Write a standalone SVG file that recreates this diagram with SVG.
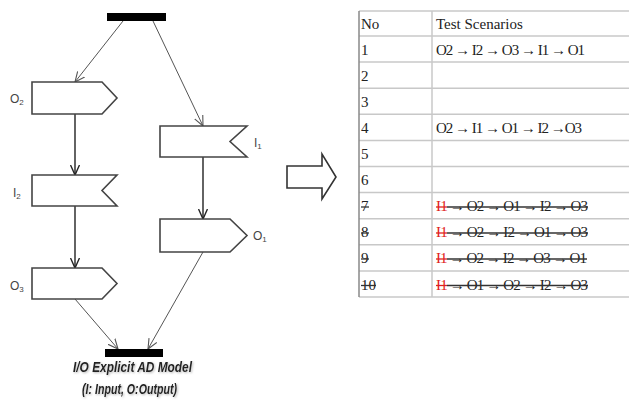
<svg xmlns="http://www.w3.org/2000/svg" width="629" height="407" viewBox="0 0 629 407">
<style>
.shape{fill:#fff;stroke:#444;stroke-width:1.6}
.bar{fill:#000}
.lbl{font-family:"Liberation Sans",Arial,sans-serif;font-size:12px;fill:#444}
.sub{font-size:8px}
.conn{fill:none;stroke:#222;stroke-width:1.4}
.diag{fill:none;stroke:#555;stroke-width:1}
.cap{font-family:"Liberation Sans",Arial,sans-serif;font-size:15px;font-weight:bold;font-style:italic;fill:#222}
.grid{stroke:#c8c8c8;stroke-width:1.5}
.lborder{stroke:#888;stroke-width:1.5}
.tt{font-family:"Liberation Serif","Times New Roman",serif;font-size:15px;fill:#222}
.red{fill:#e02020}
.strike{stroke:#333;stroke-width:1.3}
.rstrike{stroke:#e02020;stroke-width:1.3}
</style>
<defs>
<marker id="ah" viewBox="0 0 10 10" refX="10" refY="5" markerWidth="10" markerHeight="10" markerUnits="userSpaceOnUse" orient="auto">
<path d="M0,0.5 L10,5 L0,9.5" fill="none" stroke="#222" stroke-width="1.4"/>
</marker>
<marker id="ahd" viewBox="0 0 10 10" refX="10" refY="5" markerWidth="10" markerHeight="10" markerUnits="userSpaceOnUse" orient="auto">
<path d="M0,0.5 L10,5 L0,9.5" fill="none" stroke="#555" stroke-width="1.1"/>
</marker>
<filter id="sh" x="-10%" y="-30%" width="120%" height="160%">
<feDropShadow dx="1" dy="1" stdDeviation="1" flood-color="#888" flood-opacity="0.6"/>
</filter>
</defs>
<rect width="629" height="407" fill="#fff"/>

<g id="connectors">
<line class="diag" x1="123" y1="21" x2="75" y2="82" marker-end="url(#ahd)"/>
<line class="diag" x1="153" y1="21" x2="203" y2="126" marker-end="url(#ahd)"/>
<line class="conn" x1="75" y1="114" x2="75" y2="175" marker-end="url(#ah)"/>
<line class="conn" x1="75" y1="206" x2="75" y2="268" marker-end="url(#ah)"/>
<line class="conn" x1="203" y1="157" x2="203" y2="219" marker-end="url(#ah)"/>
<line class="diag" x1="75" y1="299" x2="118" y2="349" marker-end="url(#ahd)"/>
<line class="diag" x1="203" y1="252" x2="148" y2="349" marker-end="url(#ahd)"/>
</g>

<g id="fork">
<rect class="bar" x="107" y="13" width="59" height="8"/>
</g>
<g id="join">
<rect class="bar" x="105" y="349" width="58" height="8"/>
</g>

<g id="O2">
<polygon class="shape" points="32,82 102,82 117,98 102,114 32,114"/>
<text class="lbl" x="10" y="103">O<tspan class="sub" dy="2">2</tspan></text>
</g>
<g id="I2">
<polygon class="shape" points="32,175 117,175 102,190.5 117,206 32,206"/>
<text class="lbl" x="13" y="197">I<tspan class="sub" dy="2">2</tspan></text>
</g>
<g id="O3">
<polygon class="shape" points="32,268 102,268 117,283.5 102,299 32,299"/>
<text class="lbl" x="10" y="290">O<tspan class="sub" dy="2">3</tspan></text>
</g>
<g id="I1">
<polygon class="shape" points="160,126 247,126 230,141.5 247,157 160,157"/>
<text class="lbl" x="254" y="147">I<tspan class="sub" dy="2">1</tspan></text>
</g>
<g id="O1">
<polygon class="shape" points="160,219 230,219 247,235.5 230,252 160,252"/>
<text class="lbl" x="253" y="240">O<tspan class="sub" dy="2">1</tspan></text>
</g>

<g id="caption" filter="url(#sh)">
<text class="cap" x="73" y="372" textLength="119" lengthAdjust="spacingAndGlyphs">I/O Explicit AD Model</text>
<text class="cap" x="82" y="394" textLength="95" lengthAdjust="spacingAndGlyphs">(I: Input, O:Output)</text>
</g>

<g id="big-arrow">
<polygon points="287,166 322,166 322,154 336,177 322,199 322,188 287,188" fill="#fff" stroke="#333" stroke-width="1.6" stroke-linejoin="miter"/>
</g>

<g id="table">
<line class="grid" x1="359" y1="11" x2="629" y2="11"/>
<line class="grid" x1="359" y1="36" x2="629" y2="36"/>
<line class="grid" x1="359" y1="62.1" x2="629" y2="62.1"/>
<line class="grid" x1="359" y1="88.2" x2="629" y2="88.2"/>
<line class="grid" x1="359" y1="114.3" x2="629" y2="114.3"/>
<line class="grid" x1="359" y1="140.4" x2="629" y2="140.4"/>
<line class="grid" x1="359" y1="166.5" x2="629" y2="166.5"/>
<line class="grid" x1="359" y1="192.6" x2="629" y2="192.6"/>
<line class="grid" x1="359" y1="218.7" x2="629" y2="218.7"/>
<line class="grid" x1="359" y1="244.8" x2="629" y2="244.8"/>
<line class="grid" x1="359" y1="270.9" x2="629" y2="270.9"/>
<line class="grid" x1="359" y1="297" x2="629" y2="297"/>
<line class="grid" x1="432" y1="11" x2="432" y2="297"/>
<line class="lborder" x1="359" y1="11" x2="359" y2="297"/>

<text class="tt" x="361" y="29">No</text>
<text class="tt" x="436" y="29">Test Scenarios</text>

<text class="tt" x="361" y="55">1</text>
<text class="tt" x="361" y="81">2</text>
<text class="tt" x="361" y="107">3</text>
<text class="tt" x="361" y="133">4</text>
<text class="tt" x="361" y="159">5</text>
<text class="tt" x="361" y="185">6</text>
<text class="tt" x="361" y="211">7</text>
<text class="tt" x="361" y="237">8</text>
<text class="tt" x="361" y="263">9</text>
<text class="tt" x="361" y="289.5">10</text>

<text class="tt" x="436" y="55" textLength="149" lengthAdjust="spacing">O2 → I2 → O3 → I1 → O1</text>
<text class="tt" x="436" y="133" textLength="146" lengthAdjust="spacing">O2 → I1 → O1 → I2 →O3</text>

<text class="tt" x="436" y="211" textLength="152" lengthAdjust="spacing"><tspan class="red">I1</tspan> → O2 → O1 → I2 → O3</text>
<text class="tt" x="436" y="237" textLength="152" lengthAdjust="spacing"><tspan class="red">I1</tspan> → O2 → I2 → O1 → O3</text>
<text class="tt" x="436" y="263" textLength="151" lengthAdjust="spacing"><tspan class="red">I1</tspan> → O2 → I2 → O3 → O1</text>
<text class="tt" x="436" y="289.5" textLength="152" lengthAdjust="spacing"><tspan class="red">I1</tspan> → O1 → O2 → I2 → O3</text>

<line class="strike" x1="361" y1="207" x2="369" y2="207"/>
<line class="strike" x1="361" y1="233" x2="369" y2="233"/>
<line class="strike" x1="361" y1="259" x2="369" y2="259"/>
<line class="strike" x1="361" y1="285.5" x2="376" y2="285.5"/>

<line class="rstrike" x1="436" y1="207" x2="447" y2="207"/>
<line class="strike" x1="447" y1="207" x2="588" y2="207"/>
<line class="rstrike" x1="436" y1="233" x2="447" y2="233"/>
<line class="strike" x1="447" y1="233" x2="588" y2="233"/>
<line class="rstrike" x1="436" y1="259" x2="447" y2="259"/>
<line class="strike" x1="447" y1="259" x2="587" y2="259"/>
<line class="rstrike" x1="436" y1="285.5" x2="447" y2="285.5"/>
<line class="strike" x1="447" y1="285.5" x2="588" y2="285.5"/>
</g>
</svg>
